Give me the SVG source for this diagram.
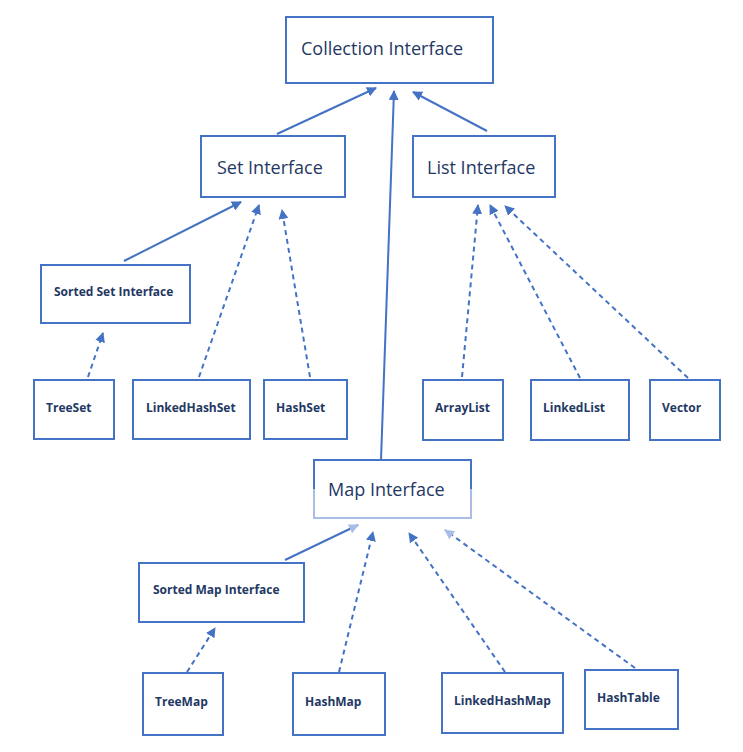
<svg xmlns="http://www.w3.org/2000/svg" width="743" height="752" viewBox="0 0 743 752">
<style>
.b{fill:#fff;stroke:#4472c4;stroke-width:2}
.t{font-family:"Open Sans","Liberation Sans",sans-serif;fill:#1f3864}
.big{font-size:18px}
.sm{font-size:12px;font-weight:bold}
.c{stroke:#4472c4;stroke-width:2;fill:none;marker-end:url(#a)}
.d{stroke-dasharray:5,4}
.l{stroke:#8eaadb}
</style>
<defs>
<marker id="a" viewBox="0 0 10 10" refX="9" refY="5" markerWidth="5" markerHeight="5" orient="auto" markerUnits="strokeWidth"><path d="M0,0L10,5L0,10z" fill="#4472c4"/></marker>
<marker id="al" viewBox="0 0 10 10" refX="9" refY="5" markerWidth="5" markerHeight="5" orient="auto" markerUnits="strokeWidth"><path d="M0,0L10,5L0,10z" fill="#a9bde6"/></marker>
<linearGradient id="g" x1="0" y1="0" x2="0" y2="1"><stop offset="0.5" stop-color="#4472c4"/><stop offset="0.5" stop-color="#a9bde6"/></linearGradient>
</defs>
<g id="connectors">
<path class="c" d="M277,134L376,88"/>
<path class="c" d="M381,460L394,91"/>
<path class="c" d="M487,131L413,92"/>
<path class="c" d="M124,261L241,202"/>
<path class="c d" d="M199,377L259,205"/>
<path class="c d" d="M310,377L282,210"/>
<path class="c d" d="M88,377L103,333"/>
<path class="c d" d="M462,377L478,205"/>
<path class="c d" d="M580,378L490,205"/>
<path class="c d" d="M688,378L505,206"/>
<path class="c" d="M285,560L358,525" style="marker-end:url(#al)"/>
<path class="c d" d="M339,672L373,532"/>
<path class="c d" d="M505,672L409,533"/>
<path class="c d" d="M635,668L445,530" style="marker-end:url(#al)"/>
<path class="c d" d="M187,672L215,628"/>
</g>
<g id="collection"><rect class="b" x="286" y="17" width="207" height="66"/><text class="t big" x="301" y="55">Collection Interface</text></g>
<g id="set"><rect class="b" x="201" y="136" width="144" height="61"/><text class="t big" x="217" y="174">Set Interface</text></g>
<g id="list"><rect class="b" x="413" y="136" width="142" height="61"/><text class="t big" x="427" y="174">List Interface</text></g>
<g id="sortedset"><rect class="b" x="41" y="265" width="149" height="58"/><text class="t sm" x="54" y="296">Sorted Set Interface</text></g>
<g id="treeset"><rect class="b" x="34" y="380" width="80" height="59"/><text class="t sm" x="46" y="412">TreeSet</text></g>
<g id="linkedhashset"><rect class="b" x="133" y="380" width="117" height="59"/><text class="t sm" x="146" y="412">LinkedHashSet</text></g>
<g id="hashset"><rect class="b" x="264" y="380" width="83" height="59"/><text class="t sm" x="276" y="412">HashSet</text></g>
<g id="arraylist"><rect class="b" x="423" y="380" width="80" height="60"/><text class="t sm" x="435" y="412">ArrayList</text></g>
<g id="linkedlist"><rect class="b" x="531" y="380" width="98" height="60"/><text class="t sm" x="543" y="412">LinkedList</text></g>
<g id="vector"><rect class="b" x="650" y="380" width="70" height="60"/><text class="t sm" x="662" y="412">Vector</text></g>
<g id="map"><rect x="314" y="460" width="157" height="58" fill="#fff" stroke="url(#g)" stroke-width="2"/><text class="t big" x="328" y="496">Map Interface</text></g>
<g id="sortedmap"><rect class="b" x="139" y="563" width="165" height="59"/><text class="t sm" x="153" y="594">Sorted Map Interface</text></g>
<g id="treemap"><rect class="b" x="143" y="673" width="80" height="62"/><text class="t sm" x="155" y="706">TreeMap</text></g>
<g id="hashmap"><rect class="b" x="293" y="673" width="92" height="62"/><text class="t sm" x="305" y="706">HashMap</text></g>
<g id="linkedhashmap"><rect class="b" x="442" y="673" width="121" height="60"/><text class="t sm" x="454" y="705">LinkedHashMap</text></g>
<g id="hashtable"><rect class="b" x="585" y="670" width="93" height="59"/><text class="t sm" x="597" y="702">HashTable</text></g>
</svg>
